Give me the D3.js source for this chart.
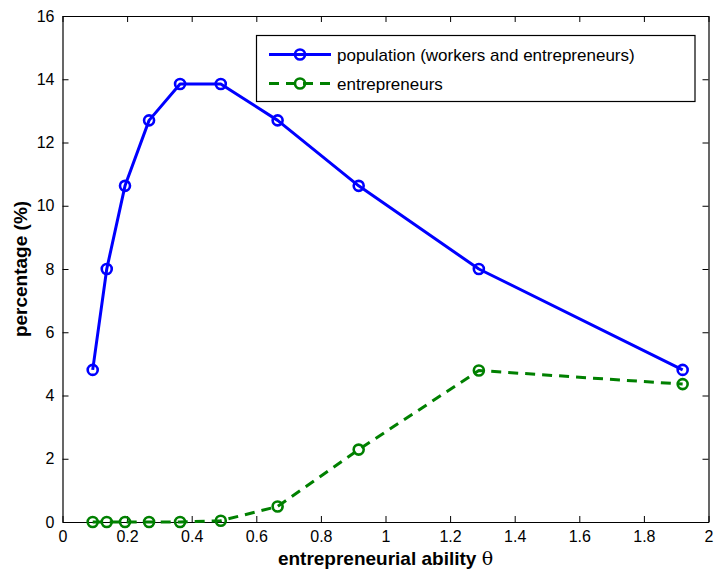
<!DOCTYPE html>
<html>
<head>
<meta charset="utf-8">
<script src="https://cdn.jsdelivr.net/npm/d3@7"></script>
<style>
  html, body { margin: 0; padding: 0; background: #fff; }
  svg { display: block; }
  text { font-family: "Liberation Sans", Arial, Helvetica, sans-serif; fill: #000; }
</style>
</head>
<body>
<svg id="chart" width="715" height="573"></svg>
<script>
// Ability grid (theta) and shares in percent
const theta = [0.0935, 0.137, 0.1935, 0.268, 0.364, 0.490, 0.666, 0.917, 1.289, 1.920];
const population = [4.81, 8.0, 10.63, 12.70, 13.85, 13.85, 12.70, 10.63, 8.0, 4.81];
const entrepreneurs = [0, 0, 0, 0, 0, 0.04, 0.49, 2.29, 4.79, 4.36];
const xTicks = [0, 0.2, 0.4, 0.6, 0.8, 1, 1.2, 1.4, 1.6, 1.8, 2];
const yTicks = [0, 2, 4, 6, 8, 10, 12, 14, 16];
const seriesNames = ["population (workers and entrepreneurs)", "entrepreneurs"];

const svg = d3.select("#chart");
const plotLeft = 62.5, plotRight = 708.5, plotTop = 16, plotBottom = 522;

const x = d3.scaleLinear().domain([0, 2]).range([plotLeft, plotRight]);
const y = d3.scaleLinear().domain([0, 16]).range([plotBottom, plotTop]);

const fmt = d => String(+d.toFixed(1));
const tickLen = 6;

// axes with inward ticks on all four sides
const axB = svg.append("g").attr("transform", `translate(0,${plotBottom})`)
  .call(d3.axisBottom(x).tickValues(xTicks).tickFormat(fmt).tickSizeInner(-tickLen).tickSizeOuter(0).tickPadding(9));
const axT = svg.append("g").attr("transform", `translate(0,${plotTop})`)
  .call(d3.axisTop(x).tickValues(xTicks).tickFormat("").tickSizeInner(-tickLen).tickSizeOuter(0));
const axL = svg.append("g").attr("transform", `translate(${plotLeft},0)`)
  .call(d3.axisLeft(y).tickValues(yTicks).tickFormat(d3.format("d")).tickSizeInner(-tickLen).tickSizeOuter(0).tickPadding(8));
const axR = svg.append("g").attr("transform", `translate(${plotRight},0)`)
  .call(d3.axisRight(y).tickValues(yTicks).tickFormat("").tickSizeInner(-tickLen).tickSizeOuter(0));

[axB, axT, axL, axR].forEach(g => {
  g.select(".domain").attr("stroke", "#000").attr("stroke-width", 1.2);
  g.selectAll(".tick line").attr("stroke", "#000").attr("stroke-width", 1);
  g.selectAll(".tick text").attr("font-size", 16).attr("fill", "#000")
    .style("font-family", "'Liberation Sans', Arial, sans-serif");
});

// axis titles
const xl = svg.append("text").attr("x", (plotLeft + plotRight) / 2).attr("y", 565)
  .attr("text-anchor", "middle").attr("font-size", 19).attr("font-weight", "bold");
xl.append("tspan").text("entrepreneurial ability ");
xl.append("tspan").attr("font-weight", "normal").style("font-family", "'DejaVu Serif', 'Liberation Serif', serif").text("θ");

svg.append("text")
  .attr("transform", `translate(27,${(plotTop + plotBottom) / 2}) rotate(-90)`)
  .attr("text-anchor", "middle").attr("font-size", 19).attr("font-weight", "bold")
  .text("percentage (%)");

// series
const line = d3.line().x(d => x(d[0])).y(d => y(d[1]));
const series = [
  { name: seriesNames[0], values: population, color: "#0000ff", dash: null },
  { name: seriesNames[1], values: entrepreneurs, color: "#008000", dash: "10,7" }
];

series.forEach(s => {
  const pts = theta.map((t, i) => [t, s.values[i]]);
  svg.append("path").datum(pts).attr("d", line)
    .attr("fill", "none").attr("stroke", s.color).attr("stroke-width", 3)
    .attr("stroke-dasharray", s.dash).attr("stroke-linejoin", "round");
  svg.append("g").selectAll("circle").data(pts).join("circle")
    .attr("cx", d => x(d[0])).attr("cy", d => y(d[1])).attr("r", 5)
    .attr("fill", "none").attr("stroke", s.color).attr("stroke-width", 2.6);
});

// legend
const lg = svg.append("g");
lg.append("rect").attr("x", 256.5).attr("y", 35.5).attr("width", 438.5).attr("height", 66)
  .attr("fill", "#fff").attr("stroke", "#000").attr("stroke-width", 1.2);
series.forEach((s, i) => {
  const cy = 54.5 + i * 29;
  lg.append("line").attr("x1", 269).attr("x2", 331).attr("y1", cy).attr("y2", cy)
    .attr("stroke", s.color).attr("stroke-width", 3).attr("stroke-dasharray", s.dash);
  lg.append("circle").attr("cx", 300).attr("cy", cy).attr("r", 5)
    .attr("fill", "none").attr("stroke", s.color).attr("stroke-width", 2.6);
  lg.append("text").attr("x", 337).attr("y", cy + 6).attr("font-size", 17).text(s.name);
});
</script>
</body>
</html>
